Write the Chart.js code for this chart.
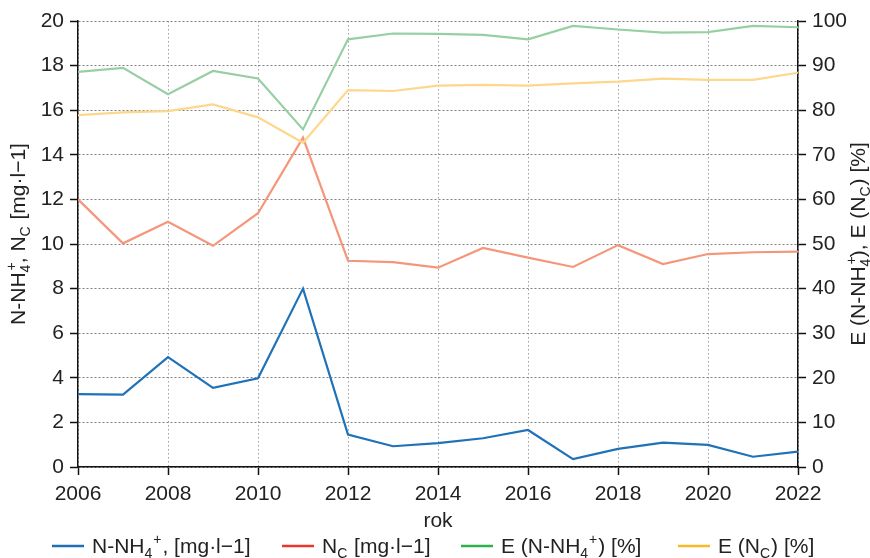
<!DOCTYPE html>
<html>
<head>
<meta charset="utf-8">
<script src="https://cdn.jsdelivr.net/npm/chart.js@4.4.1/dist/chart.umd.min.js"></script>
<style>
html, body { margin: 0; padding: 0; background: #fff; }
</style>
</head>
<body>
<canvas id="myChart" width="870" height="558"></canvas>
<script>
const years = [2006, 2007, 2008, 2009, 2010, 2011, 2012, 2013, 2014, 2015, 2016, 2017, 2018, 2019, 2020, 2021, 2022];

// concentrations [mg/l], left axis
const nh4 = [3.27, 3.25, 4.93, 3.55, 3.98, 8.0, 1.45, 0.93, 1.07, 1.29, 1.66, 0.35, 0.81, 1.09, 0.99, 0.46, 0.69];
const nc = [12.0, 10.03, 11.0, 9.92, 11.38, 14.77, 9.25, 9.19, 8.94, 9.82, 9.39, 8.97, 9.95, 9.10, 9.55, 9.63, 9.66];

// removal efficiency [%], right axis
const effNh4 = [88.6, 89.5, 83.6, 88.8, 87.1, 75.7, 95.9, 97.2, 97.1, 96.9, 95.9, 98.9, 98.1, 97.4, 97.5, 98.9, 98.6];
const effNc = [78.9, 79.5, 79.8, 81.3, 78.4, 72.7, 84.5, 84.3, 85.5, 85.7, 85.5, 86.0, 86.4, 87.1, 86.8, 86.8, 88.4];

const FONT = '"Liberation Sans", Arial, sans-serif';
const TXT = '#222';
const SIZE = 21;

const toXY = (vals) => vals.map((v, i) => ({ x: years[i], y: v }));

// text with sub/superscripts: parts are strings or {sub, sup}
function richWidth(ctx, parts, size) {
    let w = 0;
    for (const p of parts) {
        if (typeof p === 'string') {
            ctx.font = size + 'px ' + FONT;
            w += ctx.measureText(p).width;
        } else {
            ctx.font = Math.round(size * 0.68) + 'px ' + FONT;
            const a = p.sub ? ctx.measureText(p.sub).width : 0;
            const b = p.sup ? ctx.measureText(p.sup).width : 0;
            w += Math.max(a, b) + 1;
        }
    }
    return w;
}

function drawRich(ctx, parts, x, y, size) {
    ctx.fillStyle = TXT;
    ctx.textBaseline = 'alphabetic';
    ctx.textAlign = 'left';
    for (const p of parts) {
        if (typeof p === 'string') {
            ctx.font = size + 'px ' + FONT;
            ctx.fillText(p, x, y);
            x += ctx.measureText(p).width;
        } else {
            ctx.font = Math.round(size * 0.68) + 'px ' + FONT;
            let a = 0, b = 0;
            if (p.sub) { ctx.fillText(p.sub, x, y + size * 0.25); a = ctx.measureText(p.sub).width; }
            if (p.sup) { ctx.fillText(p.sup, x + (p.sub ? 2 : 0), y - size * 0.42); b = ctx.measureText(p.sup).width; }
            x += Math.max(a, b) + 1;
        }
    }
}

const leftTitle = ['N-NH', { sub: '4', sup: '+' }, ', N', { sub: 'C' }, ' [mg·l−1]'];
const rightTitle = ['E (N-NH', { sub: '4', sup: '+' }, '), E (N', { sub: 'C' }, ') [%]'];
const xTitle = ['rok'];

const legendItems = [
    { color: '#1f6fb5', x: 52, parts: ['N-NH', { sub: '4' }, { sup: '+' }, ', [mg·l−1]'] },
    { color: '#e8372b', x: 282, parts: ['N', { sub: 'C' }, ' [mg·l−1]'] },
    { color: '#2db24b', x: 461, parts: ['E (N-NH', { sub: '4' }, { sup: '+' }, ') [%]'] },
    { color: '#fbb829', x: 678, parts: ['E (N', { sub: 'C' }, ') [%]'] }
];

const textPlugin = {
    id: 'textPlugin',
    afterDraw(chart) {
        const ctx = chart.ctx;
        const area = chart.chartArea;
        const midY = (area.top + area.bottom) / 2;

        ctx.save();
        ctx.translate(25, midY - 10);
        ctx.rotate(-Math.PI / 2);
        drawRich(ctx, leftTitle, -richWidth(ctx, leftTitle, SIZE) / 2, 0, SIZE);
        ctx.restore();

        ctx.save();
        ctx.translate(865, midY);
        ctx.rotate(-Math.PI / 2);
        drawRich(ctx, rightTitle, -richWidth(ctx, rightTitle, SIZE) / 2, 0, SIZE);
        ctx.restore();

        ctx.save();
        const midX = (area.left + area.right) / 2;
        drawRich(ctx, xTitle, midX - richWidth(ctx, xTitle, SIZE) / 2, 527, SIZE);

        for (const item of legendItems) {
            ctx.strokeStyle = item.color;
            ctx.lineWidth = 2.5;
            ctx.beginPath();
            ctx.moveTo(item.x, 546);
            ctx.lineTo(item.x + 32, 546);
            ctx.stroke();
            drawRich(ctx, item.parts, item.x + 40, 553, SIZE);
        }
        ctx.restore();
    }
};

const ctx = document.getElementById('myChart').getContext('2d');
new Chart(ctx, {
    type: 'line',
    data: {
        datasets: [{
            label: 'E (N-NH4+) [%]',
            data: toXY(effNh4),
            yAxisID: 'y2',
            borderColor: '#97cfa3',
            borderWidth: 2.2
        }, {
            label: 'E (NC) [%]',
            data: toXY(effNc),
            yAxisID: 'y2',
            borderColor: '#fdd78c',
            borderWidth: 2.2
        }, {
            label: 'NC [mg·l−1]',
            data: toXY(nc),
            yAxisID: 'y',
            borderColor: '#f5967b',
            borderWidth: 2.2
        }, {
            label: 'N-NH4+, [mg·l−1]',
            data: toXY(nh4),
            yAxisID: 'y',
            borderColor: '#1f72b8',
            borderWidth: 2.2
        }]
    },
    options: {
        responsive: false,
        animation: false,
        elements: { point: { radius: 0 }, line: { tension: 0 } },
        layout: { padding: { top: 21, left: 0, right: 0, bottom: 0 } },
        plugins: {
            legend: { display: false },
            tooltip: { enabled: false }
        },
        scales: {
            x: {
                type: 'linear',
                min: 2006,
                max: 2022,
                afterFit: (scale) => { scale.height = 91; },
                ticks: {
                    stepSize: 2,
                    autoSkip: false,
                    padding: 7,
                    color: TXT,
                    font: { family: FONT, size: SIZE },
                    callback: (v) => String(v),
                    maxRotation: 0
                },
                grid: {
                    color: '#a0a0a0',
                    lineWidth: 1,
                    tickLength: 8,
                    tickColor: '#111',
                    tickWidth: 1.5,
                    tickBorderDash: []
                },
                border: { color: '#111', width: 1.5, dash: [1.5, 2.5] }
            },
            y: {
                position: 'left',
                min: 0,
                max: 20,
                afterFit: (scale) => { scale.width = 78; },
                ticks: {
                    stepSize: 2,
                    padding: 6,
                    color: TXT,
                    font: { family: FONT, size: SIZE }
                },
                grid: {
                    color: '#808080',
                    lineWidth: 1,
                    tickLength: 8,
                    tickColor: '#111',
                    tickWidth: 1.5,
                    tickBorderDash: []
                },
                border: { color: '#111', width: 1.5, dash: [2, 2] }
            },
            y2: {
                position: 'right',
                min: 0,
                max: 100,
                afterFit: (scale) => { scale.width = 72; },
                ticks: {
                    stepSize: 10,
                    padding: 6,
                    color: TXT,
                    font: { family: FONT, size: SIZE }
                },
                grid: {
                    drawOnChartArea: false,
                    tickLength: 8,
                    tickColor: '#111',
                    tickWidth: 1.5,
                    tickBorderDash: []
                },
                border: { color: '#111', width: 1.5 }
            }
        }
    },
    plugins: [textPlugin]
});
</script>
</body>
</html>
